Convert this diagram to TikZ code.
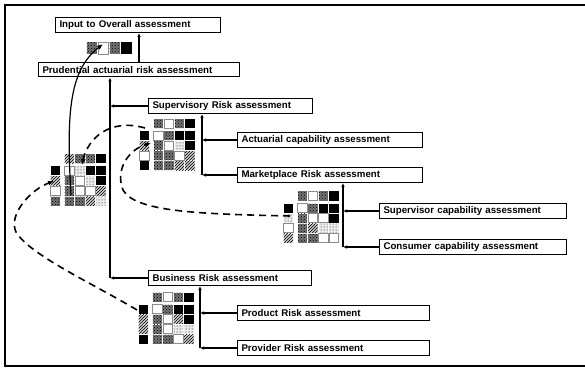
\documentclass[tikz,border=0pt]{standalone}
\usepackage{fontspec}
\setmainfont{Liberation Sans}
\usetikzlibrary{arrows.meta,patterns}
\begin{document}
\begin{tikzpicture}[x=1pt,y=-1pt,
  frame/.style={line width=1.3pt},
  abox/.style={draw, line width=1pt, anchor=west, minimum height=15pt,
    inner xsep=4pt, inner ysep=0pt, text width=#1, align=left,
    font=\fontsize{9.7}{10}\selectfont\bfseries},
  conn/.style={line width=1.1pt, -{Latex[length=4pt,width=3.5pt]}},
  flow/.style={line width=1.6pt, dash pattern=on 7pt off 5pt,
    -{Latex[length=6pt,width=5pt]}},
  link/.style={line width=1.2pt, -{Latex[length=6pt,width=5pt]}},
  cellk/.style={fill=black},
  cellx/.style={preaction={fill=black!55}, pattern=crosshatch dots, pattern color=black},
  cellh/.style={preaction={fill=black!20}, pattern=north east lines, pattern color=black},
  celld/.style={preaction={fill=black!8}, pattern=dots, pattern color=black},
  cellw/.style={fill=white, draw=black!45, line width=0.3pt},
  pics/riskgrid/.style n args={3}{code={
    % main 4x4 grid
    \foreach \cc [count=\i from 0,
        evaluate=\i as \cx using {int(mod(\i,4))},
        evaluate=\i as \cy using {int(\i/4)}] in {#3}
      \path[cell\cc] ({\cx*10.5+0.5},{\cy*10+0.5}) rectangle ++(9.5,9);
    % heading strip above the grid
    \foreach \cc [count=\i from 0] in {#1}
      \path[cell\cc] ({\i*10.5+0.5},-11.5) rectangle ++(9.5,9);
    % heading column left of the grid
    \foreach \cc [count=\i from 0] in {#2}
      \path[cell\cc] (-13.5,{\i*10+0.5}) rectangle ++(9.5,9);
  }},
  pics/riskstrip/.style={code={
    \foreach \cc [count=\i from 0] in {#1}
      \path[cell\cc] ({\i*11.5+0.5},0) rectangle ++(10.5,12);
  }}
]
\useasboundingbox (0,0) rectangle (585,371);

% outer frame
\draw[frame] (585,5) -- (5,5) -- (5,366) -- (585,366);

% assessment boxes
\node[abox=157pt] (input) at (55,25) {Input to Overall assessment};
\node[abox=193pt, minimum height=14pt] (prud) at (38,70) {Prudential actuarial risk assessment};
\node[abox=156pt] (superv) at (148,106) {Supervisory Risk assessment};
\node[abox=177pt] (actcap) at (237,140) {Actuarial capability assessment};
\node[abox=177pt] (market) at (237,175) {Marketplace Risk assessment};
\node[abox=179pt] (supcap) at (379,211) {Supervisor capability assessment};
\node[abox=179pt] (conscap) at (379,247) {Consumer capability assessment};
\node[abox=155pt] (business) at (148,278) {Business Risk assessment};
\node[abox=184pt] (product) at (237,313) {Product Risk assessment};
\node[abox=184pt] (provider) at (237,348) {Provider Risk assessment};

% spines collecting the assessments
\coordinate (s1) at (110,0);
\coordinate (s2) at (202,0);
\coordinate (s3) at (343,0);
\coordinate (s4) at (200,0);

\draw[conn] (prud.north) -- (prud.north |- input.south);

\draw[conn] (s1 |- business.west) -- (s1 |- prud.south);
\draw[conn] (superv.west) -- (superv.west -| s1);
\draw[conn] (business.west) -- (business.west -| s1);

\draw[conn] (s2 |- market.west) -- (s2 |- superv.south);
\draw[conn] (actcap.west) -- (actcap.west -| s2);
\draw[conn] (market.west) -- (market.west -| s2);

\draw[conn] (s3 |- conscap.west) -- (s3 |- market.south);
\draw[conn] (supcap.west) -- (supcap.west -| s3);
\draw[conn] (conscap.west) -- (conscap.west -| s3);

\draw[conn] (s4 |- provider.west) -- (s4 |- business.south);
\draw[conn] (product.west) -- (product.west -| s4);
\draw[conn] (provider.west) -- (provider.west -| s4);

% risk matrices
\pic at (86,42) {riskstrip={x,w,x,k}};
\pic at (64,166) {riskgrid={h,x,x,k}{k,h,w,x}{w,d,k,k, x,w,d,k, x,w,w,h, x,x,h,d}};
\pic at (153,131) {riskgrid={x,w,x,k}{k,h,w,k}{w,x,k,k, x,w,d,k, x,x,w,h, x,x,h,h}};
\pic at (297,203) {riskgrid={x,w,x,k}{k,d,w,h}{w,x,k,k, x,w,w,k, x,h,d,d, x,x,w,w}};
\pic at (152,304) {riskgrid={x,w,x,k}{k,h,h,k}{w,x,k,k, x,w,h,k, x,w,d,d, x,x,w,h}};

% flow between matrices
\coordinate (m0in) at (103,44);
\coordinate (m1out) at (71,195);
\coordinate (m1top) at (82,165);
\coordinate (m1left) at (54,181);
\coordinate (m2out) at (145,128);
\coordinate (m2in) at (151,143);
\coordinate (m3out) at (290,216);
\coordinate (m4out) at (137,310);

\draw[link] (m1out) .. controls (66,110) and (70,70) .. (m0in);
\draw[flow] (m2out) .. controls (110,118) and (88,138) .. (m1top);
\draw[flow] (m3out) .. controls (200,214) and (135,212) .. (123,190)
  .. controls (115,170) and (128,150) .. (m2in);
\draw[flow] (m4out) .. controls (90,282) and (30,255) .. (16,232)
  .. controls (8,215) and (30,190) .. (m1left);
\end{tikzpicture}
\end{document}
